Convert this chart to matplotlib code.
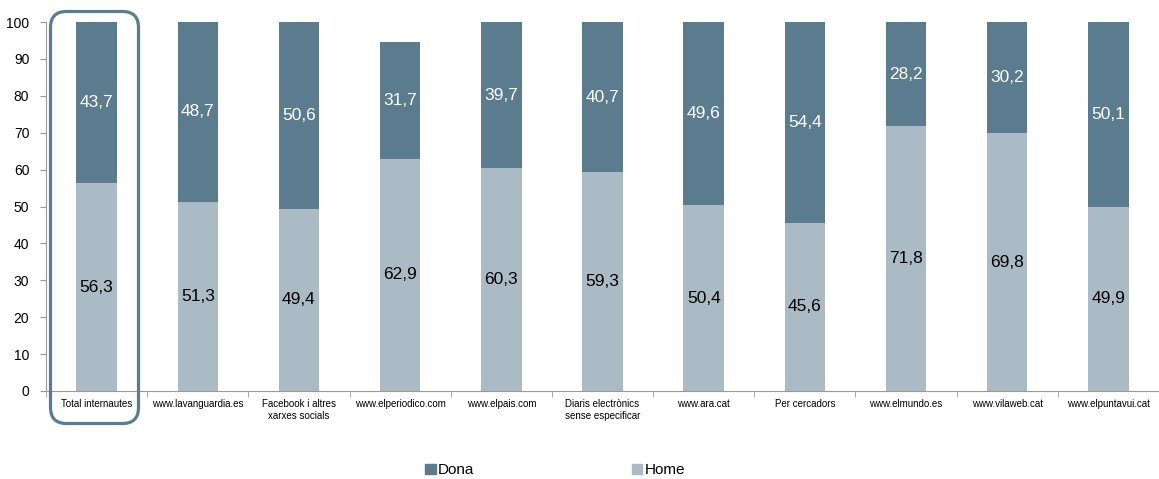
import numpy as np
import matplotlib.pyplot as plt
from matplotlib.patches import FancyBboxPatch, Patch

plt.rcParams['font.family'] = ['Liberation Sans', 'DejaVu Sans']

categories = ["Total internautes", "www.lavanguardia.es", "Facebook i altres\nxarxes socials",
              "www.elperiodico.com", "www.elpais.com", "Diaris electrònics\nsense especificar",
              "www.ara.cat", "Per cercadors", "www.elmundo.es", "www.vilaweb.cat",
              "www.elpuntavui.cat"]
home = [56.3, 51.3, 49.4, 62.9, 60.3, 59.3, 50.4, 45.6, 71.8, 69.8, 49.9]
dona = [43.7, 48.7, 50.6, 31.7, 39.7, 40.7, 49.6, 54.4, 28.2, 30.2, 50.1]

c_dona = "#5b7c8f"
c_home = "#abbbc6"

fig = plt.figure(figsize=(11.59, 4.79), dpi=100)
ax = fig.add_axes([46/1159, 88/479, 1113/1159, 369/479])

x = np.arange(len(categories))
w = 0.4
ax.bar(x, home, w, color=c_home, zorder=2)
ax.bar(x, dona, w, bottom=home, color=c_dona, zorder=2)

for i in range(len(x)):
    ax.text(x[i], home[i] / 2, f"{home[i]:.1f}".replace(".", ","), ha="center", va="center",
            fontsize=12.5, color="black")
    ax.text(x[i], home[i] + dona[i] / 2, f"{dona[i]:.1f}".replace(".", ","), ha="center",
            va="center", fontsize=12.5, color="white")

ax.set_xlim(-0.5, len(x) - 0.5)
ax.set_ylim(0, 100)
ax.set_yticks(range(0, 101, 10))
ax.tick_params(axis="y", labelsize=10, length=4, color="#999999", pad=8)
ax.set_xticks(x)
ax.set_xticklabels(categories, fontsize=7)
ax.set_xticks(np.arange(len(x) + 1) - 0.5, minor=True)
ax.tick_params(axis="x", which="major", length=0, pad=6)
ax.tick_params(axis="x", which="minor", length=4, color="#999999")
for s in ["top", "right"]:
    ax.spines[s].set_visible(False)
ax.spines["left"].set_color("#999999")
ax.spines["bottom"].set_color("#999999")

# highlight box around first category (inches)
box = FancyBboxPatch((0.505, 0.555), 0.88, 4.12,
                     boxstyle="round,pad=0,rounding_size=0.16",
                     transform=fig.dpi_scale_trans, fill=False, edgecolor=c_dona,
                     linewidth=2.3)
fig.patches.append(box)

handles = [Patch(color=c_dona, label="Dona"), Patch(color=c_home, label="Home")]
fig.legend(handles=handles, loc="center", bbox_to_anchor=(0.479, 0.018), ncol=2,
           frameon=False, fontsize=11, handlelength=0.7, handleheight=0.7,
           handletextpad=0.15, columnspacing=10.3)

fig.savefig("out.png", dpi=100)
